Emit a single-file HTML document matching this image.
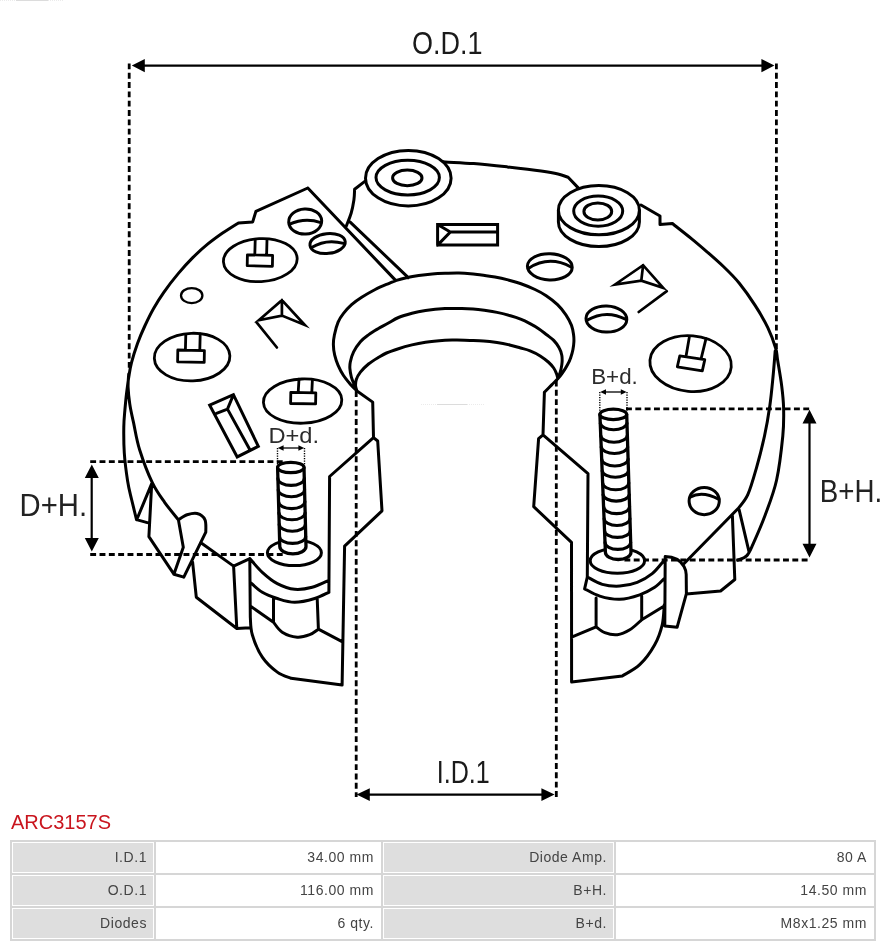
<!DOCTYPE html>
<html lang="en">
<head>
<meta charset="utf-8">
<title>ARC3157S</title>
<style>
html,body{margin:0;padding:0;background:#fff;}
body{width:890px;height:946px;position:relative;overflow:hidden;font-family:"Liberation Sans",sans-serif;}
#drawing{position:absolute;left:0;top:0;width:890px;height:812px;will-change:transform;}
#drawing svg{display:block;}
h1{will-change:transform;position:absolute;left:11px;top:810px;margin:0;font-weight:normal;font-size:20px;line-height:24px;color:#c9151e;font-family:"Liberation Sans",sans-serif;white-space:nowrap;}
table{will-change:transform;position:absolute;left:10px;top:840px;width:866px;border-collapse:separate;border-spacing:0;border:1px solid #d6d6d6;table-layout:fixed;font-family:"Liberation Sans",sans-serif;font-size:14px;color:#444;}
td{padding:0 7px 2px 0;border:1px solid #d6d6d6;text-align:right;vertical-align:middle;box-sizing:border-box;height:33px;white-space:nowrap;letter-spacing:0.55px;}
td.l{background:#dedede;box-shadow:inset 0 0 0 1px #fff;}
col.c1{width:144px;}col.c2{width:227px;}col.c3{width:233px;}col.c4{width:260px;}
</style>
</head>
<body>
<div id="drawing">
<svg width="890" height="812" viewBox="0 0 890 812">
<g fill="none" stroke="#000" stroke-width="3" stroke-linecap="round" stroke-linejoin="round">
<path d="M307.8,188L255.9,211.4L252.7,221.9L238.4,222.9C235.7,224.6 227.3,229.8 222.2,233.3C217.1,236.9 212.5,240.2 207.6,244.2C202.7,248.2 197.9,252.5 193,257.4C188.1,262.3 183.3,267.6 178.4,273.4C173.5,279.2 167.9,286.5 163.8,292.4C159.7,298.2 156.8,302.9 153.6,308.5C150.4,314.1 147.5,320.2 144.8,326C142.1,331.8 139.7,337.4 137.5,343.5C135.3,349.6 132.9,357.2 131.5,362.7C130.1,368.1 129.7,371.1 128.9,376.2C128.1,381.2 127.3,387.4 126.6,393C125.9,398.6 125.4,404.3 124.9,410C124.4,415.7 123.9,419.8 123.8,427C123.7,434.2 123.7,444 124.3,453C124.9,462 126.4,473.2 127.6,481C128.8,488.8 130.1,493.1 131.6,499.5C133.1,505.9 135.7,516.2 136.5,519.6L147.3,522.6M128.7,374C128.6,376.2 127.9,382.3 128.1,387.4C128.3,392.4 128.9,398.3 129.8,404.3C130.7,410.3 132,415.8 133.7,423.4C135.3,431 136.6,440.2 139.7,450C142.8,459.8 148,473.7 152.2,482.4C156.3,491.1 160.2,496.1 164.6,502.3C169,508.5 176.1,516.9 178.4,519.8M136.7,519.8L151.7,483.6L148.9,536.7L173.9,574.2L183.8,577.1M178.4,519.8C179.8,519 184,515.8 187.1,514.8C190.2,513.8 194.1,512.7 197.1,513.5C200.1,514.3 203.6,516.7 205,519.8C206.4,522.9 205.7,530.1 205.8,532.2L183.8,577.1M178.4,519.8L183.3,547.2L173.9,574.2M200.6,542.5L233.6,566.1M192.6,562.2L196.3,597.2L236.8,628.5L249.8,627.7M236.8,628.5L233.6,566.1L249.8,558.6L250.3,617.2M307.8,188L395.6,280.4M364.8,181.4L354.6,189.2C354.5,191 354.5,196 353.9,200C353.3,204 352.5,208.6 351.2,213C349.9,217.4 347,224.1 346.2,226.3M350.2,222.2L408.3,277.6M438,161.2C439.2,161.3 439.2,161.5 445.1,161.9C451.1,162.3 463.3,162.8 473.7,163.6C484.1,164.4 496.2,165.7 507.4,166.9C518.6,168.2 532.7,169.9 541.1,171.1C549.5,172.3 553.5,173 558,174C562.5,175 566.4,176.8 568.1,177.3L578,187.6M641,205L660,216L660,224.4L672.4,223.5C675.6,226.1 685.8,234 691.7,238.8C697.6,243.6 702.3,247.7 707.6,252.3C712.9,256.9 718.1,261.4 723.4,266.5C728.7,271.6 734,276.7 739.3,283.2C744.6,289.7 750.4,298 755.1,305.4C759.9,312.8 764.4,320.5 767.8,327.6C771.2,334.7 774.1,342.8 775.7,348.2C777.3,353.6 776.6,353.7 777.6,360C778.6,366.3 780.7,378 781.7,386C782.7,394 783.4,399.7 783.6,408C783.8,416.3 784,424 782.8,436C781.6,448 779.5,466.9 776.6,480C773.7,493.1 769.3,503.9 765.3,514.7C761.3,525.5 755.9,537.7 752.8,544.6C749.7,551.5 749.1,553.3 746.6,555.9C744.1,558.5 739.3,559.4 737.8,560.1M775.2,351C774.8,355.3 773.9,367.8 773,377C772.1,386.2 771.2,396.2 769.8,406C768.4,415.8 766.8,425.5 764.5,436C762.2,446.5 759,459 756.2,468.8C753.4,478.6 750.7,488.2 747.8,494.7C744.9,501.2 740.1,505.8 738.6,508L683.4,564.2M739.1,509.7L749.1,552.1M732.4,515.9L734.8,579.5L720.6,591L686.3,594M357,391C355.9,389.9 352.6,386.8 350.3,384.2C348.1,381.6 345.5,378.6 343.5,375.5C341.5,372.4 339.6,368.7 338.1,365.3C336.6,361.9 335.5,358.6 334.7,355.2C333.9,351.8 333.4,348.5 333.4,345.1C333.3,341.7 333.6,338.8 334.4,335C335.2,331.2 336.6,325.8 338.1,322.2C339.6,318.6 341.2,316.3 343.5,313.4C345.8,310.5 348.6,307.4 351.6,304.7C354.6,302 357.8,299.8 361.7,297.3C365.6,294.8 370.8,291.8 375.2,289.5C379.6,287.2 384.4,285.3 388,283.8C391.6,282.3 393.3,281.4 396.5,280.4C399.7,279.3 403.6,278.3 407.3,277.5C411,276.7 414.6,276.1 418.7,275.5C422.8,274.9 427.8,274.3 432.2,273.9C436.6,273.5 440.5,273.4 445,273.3C449.5,273.2 454.8,273 459,273.1C463.2,273.2 466.6,273.4 470.3,273.7C474.1,274 477.4,274.6 481.5,275.1C485.6,275.7 490.6,276.2 495,277C499.4,277.8 503.8,278.8 508,279.9C512.2,281 515.8,281.9 520.3,283.5C524.8,285.1 530.7,287.5 535,289.5C539.3,291.5 542.5,293.2 546.2,295.7C550,298.2 554.2,301.5 557.5,304.7C560.8,307.9 563.6,311.4 565.9,314.8C568.2,318.2 570.2,322 571.5,325.4C572.8,328.8 573.2,332.3 573.6,335C574,337.7 574,339.2 573.9,341.7C573.8,344.2 573.4,347.1 572.9,349.8C572.4,352.5 571.5,355.3 570.6,357.9C569.7,360.5 568.6,362.8 567.2,365.3C565.9,367.8 564.1,370.6 562.5,372.8C560.9,375.1 559.6,376.8 557.8,378.8C556,380.8 553.9,382.6 551.7,384.9C549.5,387.1 545.6,391.1 544.4,392.3M357,391C356.6,390 355.2,387.3 354.3,384.9C353.4,382.5 352,379.5 351.3,376.8C350.6,374.1 350.1,371.2 349.9,368.7C349.7,366.2 349.7,364.8 350.3,362C350.9,359.2 351.9,355.3 353.6,351.9C355.3,348.5 357.9,344.6 360.4,341.7C362.9,338.8 365.9,336.8 368.8,334.6C371.7,332.4 374.8,330.6 378,328.7C381.2,326.8 384.6,325.2 388,323.3C391.4,321.4 394.5,319.2 398.5,317.5C402.5,315.8 407.5,314.4 412,313.2C416.5,312 420,311.3 425.5,310.5C431,309.7 438.9,308.9 445,308.6C451.1,308.3 457.2,308.4 461.9,308.5C466.6,308.6 469.4,308.8 473.1,309.1C476.8,309.4 480.3,309.8 484.3,310.3C488.3,310.9 492.6,311.5 497,312.4C501.4,313.3 506.6,314.7 510.5,315.8C514.4,316.9 517.4,317.9 520.6,319.2C523.9,320.5 526.9,322 530,323.6C533.1,325.2 536.2,327 539,328.9C541.8,330.8 544.5,333.1 547,335C549.5,336.9 551.7,338.3 553.7,340.4C555.7,342.5 557.8,345.3 559.1,347.8C560.5,350.3 561.3,352.8 561.8,355.2C562.3,357.6 562.2,359.8 562.1,362C562,364.2 561.6,366.4 561.1,368.7C560.6,370.9 559.7,373.8 559.1,375.5C558.5,377.2 558,378.2 557.8,378.8M357,391C356.8,390.2 355.7,388.1 355.6,386.2C355.5,384.3 355.5,381.9 356.3,379.5C357.1,377.1 358.4,374.7 360.4,372.1C362.4,369.5 365.5,366.5 368.5,364C371.5,361.5 375.6,359.1 378.6,357.3C381.6,355.5 383.2,354.4 386.5,353C389.8,351.6 394.2,350.1 398.5,348.7C402.8,347.3 407.5,346 412,344.9C416.5,343.8 420,343.1 425.5,342.3C431,341.5 439.8,340.7 445,340.3C450.2,339.9 452.8,340.1 457,340.1C461.2,340.1 465.6,340.4 470,340.5C474.4,340.6 479,340.6 483.5,340.9C488,341.2 492.5,341.8 497,342.5C501.5,343.2 506.6,344.3 510.5,345.2C514.4,346.1 517.3,347.1 520.6,348C523.9,348.9 526.8,349.5 530.1,350.8C533.4,352.1 537.2,354 540.2,355.9C543.2,357.8 546,360 548.3,362C550.5,364 552.3,366 553.7,368C555.1,370 556,372.3 556.7,374.1C557.4,375.9 557.6,378 557.8,378.8M357,391L372.7,402.1L373.5,437.6L377.7,441L382,510.8L344.6,546.1L342.1,685.1M373.5,437.6L329.6,476.5L328.9,592.3M544.4,392.3L543,434.9L538.6,438.7L533.7,506.7L571.5,542.3L571.6,682.1L622.3,675.9C625.2,674 634.3,669.9 639.7,664.7C645.1,659.5 651,651.4 654.7,644.7C658.5,638.1 660.6,631.4 662.2,624.8C663.8,618.1 663.9,608.1 664.3,604.8M543,434.9L588,473.6L587.3,577M249.8,558.6C251.9,560.9 257.7,568.1 262.3,572.3C266.9,576.5 271.9,580.8 277.3,583.6C282.7,586.4 288.9,588.7 294.7,589.3C300.5,589.9 306.5,588.8 312.2,587.3C317.9,585.8 326.1,581.5 328.9,580.3M250.3,582.3C252.3,584 257.8,589.6 262.3,592.3C266.8,595 271.9,596.8 277.3,598.5C282.7,600.2 288.5,602.3 294.7,602.3C300.9,602.3 309,600.2 314.7,598.5C320.4,596.8 326.5,593.3 328.9,592.3M273.5,598L273.5,622.2M317.2,598.5L318.4,629.2M273.5,622.2C274.9,623.9 278.2,629.7 282.2,632.2C286.1,634.7 292.6,636.8 297.2,637.2C301.8,637.6 306.2,636 309.7,634.7C313.2,633.4 316.9,630.1 318.4,629.2M250.3,606L273.5,622.2M318.4,629.2L342.1,641.7M250.3,617.2C250.6,620.1 250.3,628.1 252.3,634.7C254.3,641.4 258.1,650.9 262.3,657.1C266.5,663.3 272.5,668.6 277.3,672.1C282.1,675.6 288.7,677.3 291,678.3L342.1,685.1M587.3,577C589.8,578.2 596.9,582.9 602.3,584.4C607.7,585.9 614,586.4 619.8,586.1C625.6,585.8 631.8,584.5 637.2,582.4C642.6,580.3 647.8,577.1 652.2,573.6C656.6,570.1 661.5,563.3 663.4,561.2M587.3,577L584.6,588.8C587.1,590 593.9,594.4 599.8,596.1C605.7,597.9 613.1,599.5 619.8,599.3C626.4,599.1 633.9,596.8 639.7,594.8C645.5,592.8 650.6,590 654.7,587.3C658.8,584.6 662.6,580 664.2,578.6M596.1,598L596.1,626.8M641.7,596L641.7,619.8M596.1,626.8C597.5,627.8 601.3,631.4 604.8,632.7C608.3,634 613.1,635.2 617.3,634.7C621.5,634.2 625.7,632.3 629.8,629.8C633.9,627.3 639.7,621.5 641.7,619.8M641.7,619.8L664.2,606M571.6,637.2L596.1,626.8M665.2,556.6Q678.5,556.8 684,566.5Q686,570 686.2,574.5L686.4,593.6L677.1,627.3L664.8,626Z"/>
<ellipse cx="408.3" cy="178.2" rx="42.8" ry="27.8" fill="#fff"/>
<ellipse cx="407.7" cy="177.6" rx="31.7" ry="17.3"/>
<ellipse cx="407.3" cy="177.9" rx="14.7" ry="7.8"/>
<path fill="#fff" d="M558.4,210.2L558.4,222A40.5,24.6 0 0 0 639.4,222L639.4,210.2"/>
<ellipse cx="598.9" cy="210.2" rx="40.5" ry="24.6" fill="#fff"/>
<ellipse cx="598.2" cy="211.1" rx="24.5" ry="15.1"/>
<ellipse cx="597.8" cy="211.4" rx="13.9" ry="8.5"/>
<ellipse cx="260.3" cy="260.1" rx="36.9" ry="21.5" transform="rotate(-3 260.3 260.1)" stroke-width="2.8"/><path stroke-width="2.8" d="M247.4,254.8L272.6,255.4L272.4,266.3L247.2,265.7ZM254.8,254.8L255.2,240.2M266.6,255.2L267,239.6"/>
<ellipse cx="192.1" cy="357.1" rx="37.8" ry="23.8" transform="rotate(-2 192.1 357.1)" stroke-width="2.8"/><path stroke-width="2.8" d="M177.8,350L204.4,350.6L204.2,362.4L177.6,361.8ZM185.4,350L185.8,334.4M199.8,350.4L200.2,334"/>
<ellipse cx="302.6" cy="401.1" rx="39.2" ry="22.1" transform="rotate(-2 302.6 401.1)" stroke-width="2.8"/><path stroke-width="2.8" d="M290.8,392.4L315.8,392.8L315.6,403.9L290.6,403.5ZM298.2,392.4L299,379.2M311.8,392.6L312.4,379.6"/>
<ellipse cx="690.6" cy="363.6" rx="40.8" ry="27.8" transform="rotate(5 690.6 363.6)" stroke-width="2.8"/><path stroke-width="2.8" d="M679.8,355.9L704.8,359.6L702.3,370.9L677.3,366.8ZM686,356.6L689.3,337.2M701,359.1L706,338.6"/>
<ellipse cx="191.7" cy="295.6" rx="10.7" ry="7.5" stroke-width="2.3"/>
<ellipse cx="305.2" cy="221.5" rx="16.5" ry="12.6" transform="rotate(-3 305.2 221.5)"/>
<path d="M289.6,224.2Q305,217.2 320.8,222.6"/>
<ellipse cx="327.6" cy="243.5" rx="17.7" ry="9.9" transform="rotate(-6 327.6 243.5)"/>
<path d="M311.6,247.6Q326,238.4 343.6,243.4"/>
<ellipse cx="549.8" cy="266.8" rx="22.4" ry="13.1" transform="rotate(2 549.8 266.8)"/>
<path d="M528.4,268.4Q549,255 571,267"/>
<ellipse cx="606.4" cy="319" rx="20.4" ry="13.1" transform="rotate(2 606.4 319)"/>
<path d="M587,320.2Q606,309 626,319.4"/>
<ellipse cx="704.2" cy="501.1" rx="15.1" ry="13.6"/>
<path d="M690,497.3Q702,490.4 719,499.4"/>
<path stroke-linejoin="miter" d="M437.6,224.5H497.6V245.1H437.6ZM437.6,224.5L450.3,232L437.6,245.1M450.3,232H497.6"/>
<path stroke-linejoin="miter" stroke-miterlimit="10" stroke-width="2.7" d="M258.8,320.2L281.9,300.2L304.8,325L281.9,315.6ZM281.9,300.2V315.6M256.4,322.2L276.9,347.5"/>
<path stroke-linejoin="miter" stroke-miterlimit="10" stroke-width="2.7" d="M615,284.5L643.1,265.2L663.2,287.8L641.3,280.6ZM643.1,265.2L641.3,280.6M666.8,291.2L638.7,312"/>
<path stroke-linejoin="miter" d="M209.7,405.1L233.4,394.7L258.3,446.3L237.2,456.9ZM216.5,413.3L227.5,409.1L233.4,394.7M227.5,409.1L249.9,449.7"/>
<ellipse cx="294.4" cy="552.8" rx="27" ry="12.8" fill="#fff"/><path fill="#fff" stroke-width="3.3" d="M277.6,467.5L279.8,546.6A13.1,7.2 0 0 0 306,546.6L304,467.5"/><ellipse cx="290.8" cy="467.5" rx="13.2" ry="5.2" stroke-width="3.2" fill="#fff"/><path stroke-width="3.1" d="M277.9,478.4A13.2,7 0 0 0 304.3,478.4M278.2,489.8A13.2,7 0 0 0 304.6,489.8M278.5,501.6A13.2,7 0 0 0 304.9,501.6M278.9,512.8A13.1,7 0 0 0 305.1,512.8M279.2,524.2A13.1,7 0 0 0 305.4,524.2M279.5,536.4A13.1,7 0 0 0 305.7,536.4"/>
<ellipse cx="617.4" cy="560.8" rx="27.2" ry="12.5" fill="#fff"/><path fill="#fff" stroke-width="3.3" d="M599.9,414.4L605.4,552.3A12.8,7.2 0 0 0 631,552.3L626.7,414.4"/><ellipse cx="613.3" cy="414.4" rx="13.4" ry="5.2" stroke-width="3.2" fill="#fff"/><path stroke-width="3.1" d="M600.3,423.3A13.4,7 0 0 0 627,423.3M600.7,435.2A13.3,7 0 0 0 627.3,435.2M601.2,447.1A13.3,7 0 0 0 627.7,447.1M601.7,459A13.2,7 0 0 0 628.1,459M602.2,470.9A13.2,7 0 0 0 628.5,470.9M602.6,482.8A13.1,7 0 0 0 628.8,482.8M603.1,494.7A13.1,7 0 0 0 629.2,494.7M603.6,506.6A13,7 0 0 0 629.6,506.6M604.1,518.5A12.9,7 0 0 0 629.9,518.5M604.5,530.4A12.9,7 0 0 0 630.3,530.4M605,542.3A12.8,7 0 0 0 630.7,542.3"/>
</g>
<g fill="none" stroke="#000" stroke-linecap="butt">
<path stroke-width="2.8" stroke-dasharray="5.9 3.43" d="M129.2,63.4V368M776.4,63.4V349"/>
<path stroke-width="2.2" d="M140,65.7H766"/>
<path fill="#000" stroke="none" d="M131.8,65.6L144.8,59V72.2ZM774.4,65.6L761.4,59V72.2Z"/>
<path stroke-width="2.8" stroke-dasharray="5.9 3.43" d="M356.2,391V797M556.3,380.5V797"/>
<path stroke-width="2.3" d="M366,794.6H546"/>
<path fill="#000" stroke="none" d="M356.6,794.6L369.8,788.2V801ZM554.6,794.6L541.4,788.2V801Z"/>
<path stroke-width="2.8" stroke-dasharray="5.9 3.43" d="M90.2,461.6H286M90.2,554.5H285"/>
<path stroke-width="2.2" d="M91.7,475V542"/>
<path fill="#000" stroke="none" d="M91.8,464.6L84.8,478H98.8ZM91.8,551.4L84.8,538H98.8Z"/>
<path stroke-width="2.8" stroke-dasharray="5.9 3.43" d="M626,408.8H811M624.4,560H811"/>
<path stroke-width="2.2" d="M809.5,420V547"/>
<path fill="#000" stroke="none" d="M809.5,409.8L802.5,423.4H816.5ZM809.5,557.4L802.5,543.8H816.5Z"/>
<path stroke-width="1.4" stroke-dasharray="1.3 1.2" d="M277.5,448V466M304.5,448V466"/>
<path stroke-width="1.3" d="M281,448H301"/>
<path fill="#000" stroke="none" d="M277.8,448L283.6,445.2V450.8ZM304.2,448L298.4,445.2V450.8Z"/>
<path stroke-width="1.4" stroke-dasharray="1.3 1.2" d="M599.8,392V412M627,392V412"/>
<path stroke-width="1.3" d="M603,392H624"/>
<path fill="#000" stroke="none" d="M600.2,392L606,389.2V394.8ZM626.6,392L620.8,389.2V394.8Z"/>
</g>
<g font-family="'Liberation Sans', sans-serif" stroke="none">
<text x="412" y="53.6" font-size="31.7" textLength="70.5" lengthAdjust="spacingAndGlyphs" fill="#1a1a1a">O.D.1</text>
<text x="436.8" y="783" font-size="31.7" textLength="53" lengthAdjust="spacingAndGlyphs" fill="#1a1a1a">I.D.1</text>
<text x="19.6" y="516" font-size="31.8" textLength="67.5" lengthAdjust="spacingAndGlyphs" fill="#222">D+H.</text>
<text x="819.8" y="501.7" font-size="31.3" textLength="62.4" lengthAdjust="spacingAndGlyphs" fill="#222">B+H.</text>
<text x="268.4" y="442.9" font-size="22.4" textLength="50.7" lengthAdjust="spacingAndGlyphs" fill="#2c2c2c">D+d.</text>
<text x="591.2" y="384.2" font-size="22.4" textLength="46.6" lengthAdjust="spacingAndGlyphs" fill="#2c2c2c">B+d.</text>
</g>
<path stroke="#ebebeb" stroke-width="1" fill="none" stroke-dasharray="1 1" d="M0,0.5H64M421,404.5H485"/><path stroke="#dcdcdc" stroke-width="1" fill="none" d="M16,0.5H48M437,404.5H467"/>
</svg>
</div>
<h1>ARC3157S</h1>
<table>
<colgroup><col class="c1"><col class="c2"><col class="c3"><col class="c4"></colgroup>
<tr><td class="l">I.D.1</td><td>34.00 mm</td><td class="l">Diode Amp.</td><td>80 A</td></tr>
<tr><td class="l">O.D.1</td><td>116.00 mm</td><td class="l">B+H.</td><td>14.50 mm</td></tr>
<tr><td class="l">Diodes</td><td>6 qty.</td><td class="l">B+d.</td><td>M8x1.25 mm</td></tr>
</table>
</body>
</html>
